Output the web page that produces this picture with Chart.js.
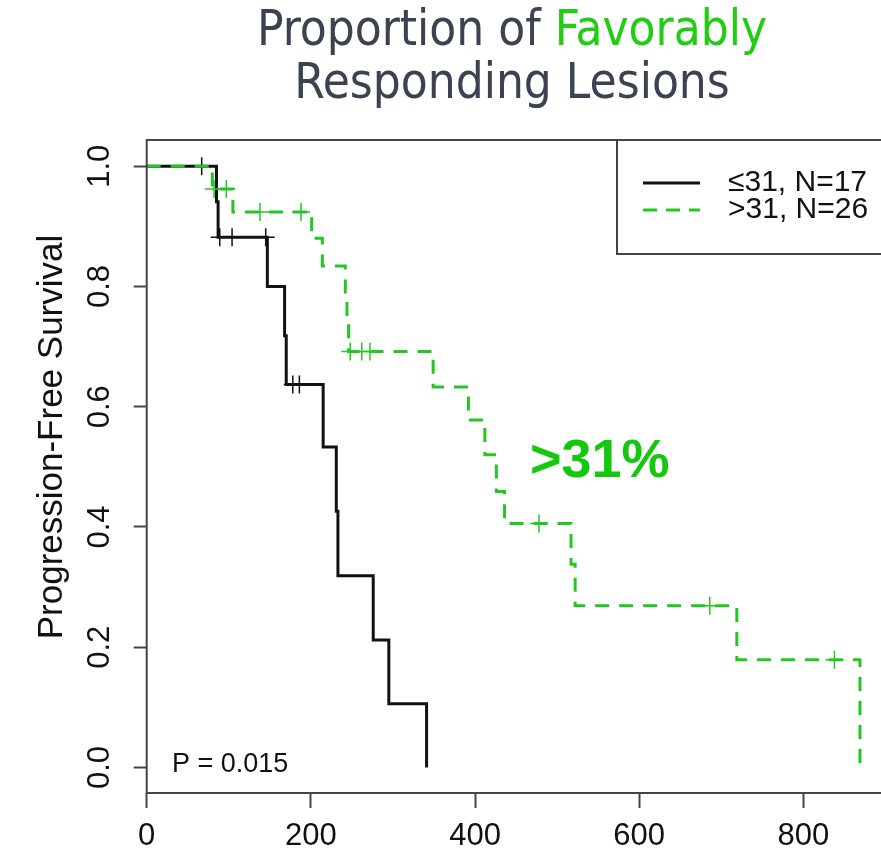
<!DOCTYPE html>
<html>
<head>
<meta charset="utf-8">
<script src="https://cdn.jsdelivr.net/npm/chart.js@4.4.1/dist/chart.umd.min.js"></script>
<style>
  html, body { margin: 0; padding: 0; background: #fff; overflow: hidden; }
  #wrap { position: relative; width: 881px; height: 854px; overflow: hidden; }
  #title {
    position: absolute; left: 0; top: 2px; width: 1024px; text-align: center;
    font-family: "DejaVu Sans Condensed", "DejaVu Sans", sans-serif;
    font-size: 49px; line-height: 53px; color: #3d4252;
  }
  #title .hl { color: #22cc11; }
  canvas { position: absolute; left: 0; top: 0; }
</style>
</head>
<body>
<div id="wrap">
  <canvas id="km" width="900" height="854"></canvas>
  <div id="title">Proportion of <span class="hl">Favorably</span><br>Responding Lesions</div>
</div>
<script>
// ≤31 group: event times and survival after each drop
var lowTimes = [0, 85, 87, 147, 168, 170, 215, 231, 233, 276, 295, 341]
var lowSurv  = [1.0, 0.941, 0.882, 0.80, 0.718, 0.637, 0.533, 0.426, 0.319, 0.212, 0.106, 0.0]
var lowCensorTimes = [67, 89, 104, 145, 178, 186]
var lowCensorSurv  = [1.0, 0.882, 0.882, 0.882, 0.637, 0.637]

// >31 group
var highTimes = [0, 80, 105, 201, 214, 242, 244, 246, 349, 392, 412, 426, 436, 517, 522, 719, 869]
var highSurv  = [1.0, 0.962, 0.924, 0.88, 0.834, 0.787, 0.740, 0.692, 0.633, 0.578, 0.52, 0.459, 0.406, 0.338, 0.269, 0.179, 0.0]
var highCensorTimes = [82, 97, 138, 188, 248, 262, 272, 478, 686, 838]
var highCensorSurv  = [0.962, 0.962, 0.924, 0.924, 0.692, 0.692, 0.692, 0.406, 0.269, 0.179]

var seriesLabels = ['\u226431, N=17', '>31, N=26']
var xTicks = [0, 200, 400, 600, 800]
var yTicks = [0, 0.2, 0.4, 0.6, 0.8, 1.0]
var yTickLabels = ['0.0', '0.2', '0.4', '0.6', '0.8', '1.0']

var BLACK = '#111111'
var GREEN = '#22c822'
var FONT = '"Liberation Sans", Arial, sans-serif'

function pts(xs, ys) {
  var out = []
  for (var i = 0; i < xs.length; i++) out.push({x: xs[i], y: ys[i]})
  return out
}

var decor = {
  id: 'decor',
  afterDraw: function(chart) {
    var ctx = chart.ctx
    var a = chart.chartArea
    var ys = chart.scales.y
    ctx.save()

    // plot box
    ctx.strokeStyle = '#444'
    ctx.lineWidth = 2
    ctx.strokeRect(a.left, a.top, a.right - a.left, a.bottom - a.top)

    // rotated y tick labels
    ctx.fillStyle = BLACK
    ctx.font = '31px ' + FONT
    ctx.textAlign = 'center'
    ctx.textBaseline = 'alphabetic'
    for (var i = 0; i < yTicks.length; i++) {
      ctx.save()
      ctx.translate(109, ys.getPixelForValue(yTicks[i]))
      ctx.rotate(-Math.PI / 2)
      ctx.fillText(yTickLabels[i], 0, 0)
      ctx.restore()
    }

    // y axis title
    ctx.save()
    ctx.font = '35px ' + FONT
    ctx.translate(62, 437)
    ctx.rotate(-Math.PI / 2)
    ctx.fillText('Progression-Free Survival', 0, 0)
    ctx.restore()

    // legend box, top right inside the plot
    var lx = 617, lb = 254
    ctx.fillStyle = '#fff'
    ctx.fillRect(lx, a.top, a.right - lx, lb - a.top)
    ctx.strokeStyle = '#444'
    ctx.lineWidth = 2
    ctx.strokeRect(lx, a.top, a.right - lx, lb - a.top)
    var rows = [183, 210]
    var styles = [{c: BLACK, d: []}, {c: GREEN, d: [14, 9]}]
    ctx.font = '30px ' + FONT
    ctx.textAlign = 'left'
    ctx.textBaseline = 'middle'
    for (var j = 0; j < rows.length; j++) {
      ctx.beginPath()
      ctx.setLineDash(styles[j].d)
      ctx.strokeStyle = styles[j].c
      ctx.lineWidth = 3
      ctx.moveTo(643, rows[j])
      ctx.lineTo(700, rows[j])
      ctx.stroke()
      ctx.setLineDash([])
      ctx.fillStyle = BLACK
      ctx.fillText(seriesLabels[j], 728, rows[j])
    }

    // annotations
    ctx.textBaseline = 'alphabetic'
    ctx.fillStyle = BLACK
    ctx.font = '27px ' + FONT
    ctx.fillText('P = 0.015', 172, 772)
    ctx.fillStyle = '#14c80e'
    ctx.font = 'bold 54px ' + FONT
    ctx.fillText('>31%', 530, 477)

    ctx.restore()
  }
}

var ctx = document.getElementById('km')
var chart = new Chart(ctx, {
  type: 'line',
  data: {
    datasets: [
      {
        label: seriesLabels[0], data: pts(lowTimes, lowSurv), stepped: 'before',
        borderColor: BLACK, borderWidth: 3, pointRadius: 0, fill: false, order: 4
      },
      {
        label: seriesLabels[1], data: pts(highTimes, highSurv), stepped: 'before',
        borderColor: GREEN, borderWidth: 3, borderDash: [14, 10], pointRadius: 0, fill: false, order: 2
      },
      {
        type: 'scatter', label: 'low censored', data: pts(lowCensorTimes, lowCensorSurv),
        pointStyle: 'cross', pointRadius: 9, borderColor: BLACK, borderWidth: 1.5, showLine: false, order: 3
      },
      {
        type: 'scatter', label: 'high censored', data: pts(highCensorTimes, highCensorSurv),
        pointStyle: 'cross', pointRadius: 9, borderColor: GREEN, borderWidth: 1.5, showLine: false, order: 1
      }
    ]
  },
  options: {
    responsive: false,
    animation: false,
    devicePixelRatio: 1,
    layout: { padding: { top: 140, right: 10, left: 0, bottom: 0 } },
    plugins: { legend: { display: false }, tooltip: { enabled: false } },
    scales: {
      x: {
        type: 'linear', min: 0, max: 905,
        afterBuildTicks: function(s) { s.ticks = xTicks.map(function(v) { return {value: v} }) },
        afterFit: function(s) { s.height = 61 },
        grid: { drawOnChartArea: false, drawTicks: true, tickLength: 15, tickWidth: 2, tickColor: '#444' },
        border: { display: false },
        ticks: { color: BLACK, font: { size: 31, family: FONT }, padding: 10, maxRotation: 0 }
      },
      y: {
        type: 'linear', min: -0.0424, max: 1.0436,
        afterBuildTicks: function(s) { s.ticks = yTicks.map(function(v) { return {value: v} }) },
        afterFit: function(s) { s.width = 146.7 },
        grid: { drawOnChartArea: false, drawTicks: true, tickLength: 13, tickWidth: 2, tickColor: '#444' },
        border: { display: false },
        ticks: { display: false }
      }
    }
  },
  plugins: [decor]
})
</script>
</body>
</html>
